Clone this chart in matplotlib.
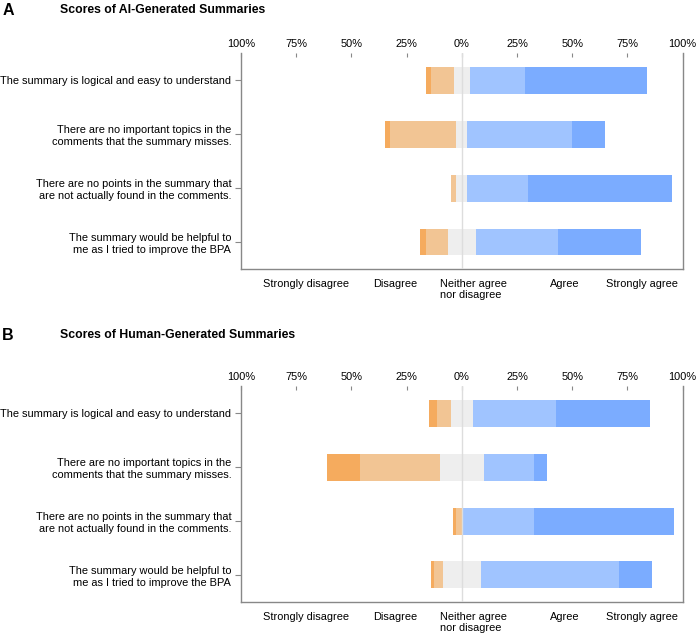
import matplotlib
matplotlib.use("Agg")
import matplotlib.pyplot as plt
import numpy as np

plt.rcParams['font.family'] = ['Liberation Sans', 'DejaVu Sans']

questions = [
    "The summary is logical and easy to understand",
    "There are no important topics in the\ncomments that the summary misses.",
    "There are no points in the summary that\nare not actually found in the comments.",
    "The summary would be helpful to\nme as I tried to improve the BPA",
]

levels = ["Strongly disagree", "Disagree", "Neither agree\nnor disagree", "Agree", "Strongly agree"]
level_colors = ["#f5ab5e", "#f2c594", "#eeeeee", "#a0c4ff", "#7bacff"]

# percent of responses per level (SD, D, N, A, SA), one row per question
ai_scores = [
    [2.5, 10.0, 7.5, 25.0, 55.0],
    [2.5, 30.0, 5.0, 47.5, 15.0],
    [0.0, 2.5, 5.0, 27.5, 65.0],
    [2.5, 10.0, 12.5, 37.5, 37.5],
]
human_scores = [
    [3.6, 6.2, 10.1, 37.6, 42.5],
    [15.1, 36.2, 19.9, 22.7, 6.1],
    [1.1, 2.7, 0.0, 32.7, 63.5],
    [1.2, 3.9, 17.3, 62.6, 15.0],
]

ticks = [-100, -75, -50, -25, 0, 25, 50, 75, 100]
tick_labels = ["100%", "75%", "50%", "25%", "0%", "25%", "50%", "75%", "100%"]

# letter, title, data, axes bottom, title line y
panels = [
    ("A", "Scores of AI-Generated Summaries", ai_scores, 0.5764, 0.9835),
    ("B", "Scores of Human-Generated Summaries", human_scores, 0.052, 0.4724),
]

fs = 7.9
fig = plt.figure(figsize=(7, 6.35), dpi=100)

for letter, title, scores, bottom, ty in panels:
    ax = fig.add_axes([0.3443, bottom, 0.631, 0.340])
    data = np.array(scores)
    y = np.arange(len(questions))
    # left edge so that neutral is centred on zero
    left = -(data[:, 0] + data[:, 1] + data[:, 2] / 2.0)
    for i in range(len(levels)):
        ax.barh(y, data[:, i], left=left, height=0.5, color=level_colors[i], zorder=2)
        left = left + data[:, i]
    ax.axvline(0, color="#dddddd", lw=1, zorder=3)

    ax.set_xlim(-100, 100)
    ax.set_ylim(3.5, -0.5)
    ax.set_yticks(y)
    ax.set_yticklabels(questions, fontsize=fs, ha="right", multialignment="right")
    ax.xaxis.tick_top()
    ax.set_xticks(ticks)
    ax.set_xticklabels(tick_labels, fontsize=fs)
    ax.tick_params(axis="x", direction="in", length=3, color="#888888", pad=3)
    ax.tick_params(axis="y", direction="out", length=4, color="#888888", pad=3)
    ax.spines["top"].set_visible(False)
    for s in ["left", "right", "bottom"]:
        ax.spines[s].set_color("#888888")
        ax.spines[s].set_linewidth(1)

    # level names under the axes
    pos = [0.147, 0.349, 0.4505, 0.732, 0.907]
    for i, lab in enumerate(levels):
        ha = "left" if "\n" in lab else "center"
        ax.text(pos[i], -0.045, lab, transform=ax.transAxes, ha=ha, va="top",
                fontsize=fs, linespacing=1.15)

    fig.text(0.003, ty, letter, fontsize=11.5, fontweight="bold", va="center")
    fig.text(0.086, ty, title, fontsize=8.8, fontweight="bold", va="center")

fig.savefig("out.png", dpi=100)
